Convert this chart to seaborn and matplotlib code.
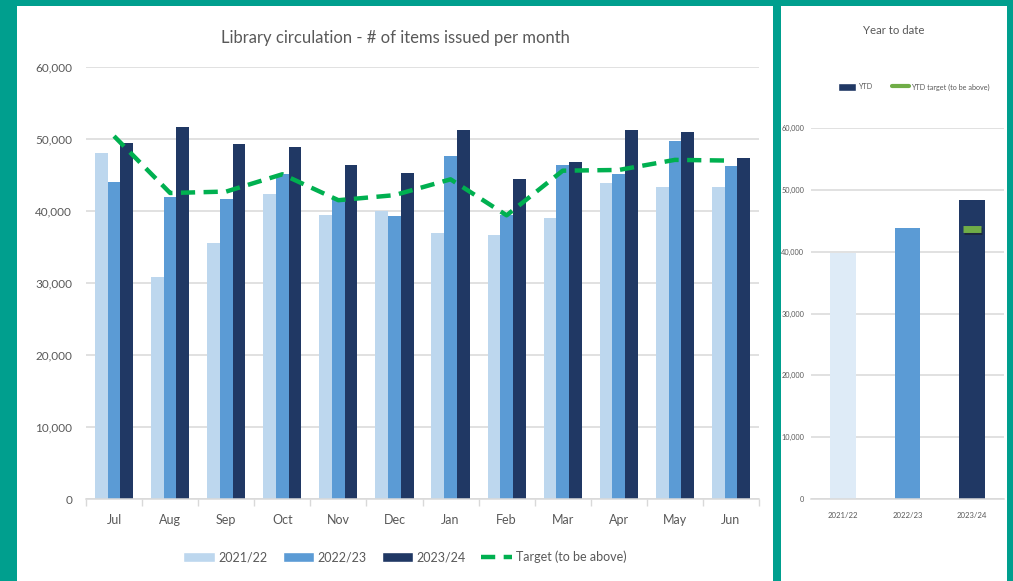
import numpy as np
import pandas as pd
import matplotlib
matplotlib.use("Agg")
import matplotlib.pyplot as plt
import matplotlib.patheffects as pe
from matplotlib.patches import Rectangle, Patch
from matplotlib.lines import Line2D
from matplotlib.ticker import FuncFormatter, FixedLocator
import seaborn as sns

# ---------------- data ----------------
months = ["Jul", "Aug", "Sep", "Oct", "Nov", "Dec", "Jan", "Feb", "Mar", "Apr", "May", "Jun"]
years = ["2021/22", "2022/23", "2023/24"]
issued_2021_22 = [48100, 30800, 35600, 42300, 39500, 40000, 37000, 36700, 39000, 43900, 43300, 43400]
issued_2022_23 = [44000, 42000, 41700, 45200, 41700, 39300, 47700, 39400, 46400, 45200, 49700, 46300]
issued_2023_24 = [49500, 51700, 49300, 48900, 46400, 45300, 51200, 44500, 46800, 51200, 51000, 47300]
target = [50400, 42500, 42700, 45100, 41500, 42200, 44400, 39400, 45600, 45700, 47100, 47000]

ytd_years = ["2021/22", "2022/23", "2023/24"]
ytd_values = [39800, 43900, 48400]
ytd_target = 43700

# ---------------- style ----------------
sns.set_theme(style="white")
FONT = ["Lato", "DejaVu Sans"]
plt.rcParams["font.family"] = FONT
TXT = "#595959"
GRID = "#D9D9D9"
TEAL = "#009F8E"
C1, C2, C3 = "#BDD7EE", "#5B9BD5", "#203864"
GREEN = "#00B050"

W, H = 1013, 581
fig = plt.figure(figsize=(W / 100, H / 100), dpi=100, facecolor=TEAL)

def fx(px):
    return px / W

def fy(py):
    return 1 - py / H

# white panels (behind the axes)
fig.patches.append(Rectangle((fx(17), 0), fx(773 - 17), 1 - 6 / H, transform=fig.transFigure,
                             facecolor="white", edgecolor="none", zorder=-10))
fig.patches.append(Rectangle((fx(781), 0), fx(1007 - 781), 1 - 6 / H, transform=fig.transFigure,
                             facecolor="white", edgecolor="none", zorder=-10))

# ---------------- left chart ----------------
ax = fig.add_axes([fx(86), fy(499), fx(759 - 86), (499 - 67) / H])
ax.set_facecolor("none")
df = pd.DataFrame({
    "month": months * 3,
    "year": sum([[y] * 12 for y in years], []),
    "value": issued_2021_22 + issued_2022_23 + issued_2023_24,
})
sns.barplot(data=df, x="month", y="value", hue="year", order=months, hue_order=years,
            palette=[C1, C2, C3], width=0.68, gap=0, saturation=1, ax=ax,
            linewidth=0, legend=False, zorder=2)
sns.lineplot(x=np.arange(len(months)), y=target, ax=ax, color=GREEN, lw=3.2,
             linestyle=(0, (3.2, 1.9)), zorder=3)
ax.set_xlim(-0.5, len(months) - 0.5)
ax.set_ylim(0, 60000)
ax.set_yticks(np.arange(0, 60001, 10000))
ax.yaxis.set_major_formatter(FuncFormatter(lambda v, p: f"{v:,.0f}"))
ax.grid(axis="y", color=GRID, lw=1.1, zorder=0)
ax.set_axisbelow(True)
for s in ["top", "right", "left"]:
    ax.spines[s].set_visible(False)
ax.spines["bottom"].set_color(GRID)
ax.spines["bottom"].set_linewidth(1.1)
ax.set_xlabel("")
ax.set_ylabel("")
ax.tick_params(axis="y", length=0, pad=10, labelsize=8.5, labelcolor=TXT)
ax.tick_params(axis="x", which="major", length=0, pad=11, labelsize=9, labelcolor=TXT)
ax.xaxis.set_minor_locator(FixedLocator(np.arange(-0.5, len(months), 1)))
ax.tick_params(axis="x", which="minor", length=5, width=1, color=GRID, bottom=True)
fig.text(fx(395), fy(38), "Library circulation - # of items issued per month",
         ha="center", va="center", fontsize=12, color=TXT)

handles = [Patch(facecolor=C1, label="2021/22"), Patch(facecolor=C2, label="2022/23"),
           Patch(facecolor=C3, label="2023/24"),
           Line2D([0], [0], color=GREEN, lw=3.2, linestyle=(0, (3.2, 1.9)), label="Target (to be above)")]
fig.legend(handles=handles, loc="center", bbox_to_anchor=(fx(405), fy(557)), ncol=4, frameon=False,
           fontsize=9, labelcolor=TXT, handlelength=2.5, handleheight=0.9, columnspacing=1.2,
           handletextpad=0.3)

# ---------------- right chart ----------------
ax2 = fig.add_axes([fx(811), fy(499), fx(1004 - 811), (499 - 128) / H])
ax2.set_facecolor("none")
sns.barplot(x=ytd_years, y=ytd_values, hue=ytd_years, palette=["#DEEBF7", C2, C3], width=0.4,
            saturation=1, linewidth=0, legend=False, ax=ax2, zorder=2)
ax2.plot([2], [ytd_target], marker="_", ms=13, mew=5, color="#70AD47", zorder=4,
         path_effects=[pe.SimpleLineShadow(offset=(0.5, -1.5), alpha=0.5), pe.Normal()])
ax2.set_xlim(-0.5, 2.5)
ax2.set_ylim(0, 60000)
ax2.set_yticks(np.arange(0, 60001, 10000))
ax2.yaxis.set_major_formatter(FuncFormatter(lambda v, p: f"{v:,.0f}"))
ax2.grid(axis="y", color=GRID, lw=1.1, zorder=0)
ax2.set_axisbelow(True)
for s in ["top", "right", "left"]:
    ax2.spines[s].set_visible(False)
ax2.spines["bottom"].set_color(GRID)
ax2.spines["bottom"].set_linewidth(1.1)
ax2.tick_params(axis="y", length=0, pad=5, labelsize=5.3, labelcolor=TXT)
ax2.tick_params(axis="x", length=0, pad=9, labelsize=5.6, labelcolor=TXT)
fig.text(fx(894), fy(31), "Year to date", ha="center", va="center", fontsize=8.2, color=TXT)
h2 = [Patch(facecolor=C3, label="YTD"),
      Line2D([0], [0], color="#70AD47", lw=3, label="YTD target (to be above)")]
fig.legend(handles=h2, loc="center", bbox_to_anchor=(fx(914), fy(87)), ncol=2, frameon=False,
           fontsize=5.2, labelcolor=TXT, handlelength=2.4, handleheight=1.2, columnspacing=2.7,
           handletextpad=0.3)

fig.savefig("out.png", dpi=100, facecolor=TEAL)
